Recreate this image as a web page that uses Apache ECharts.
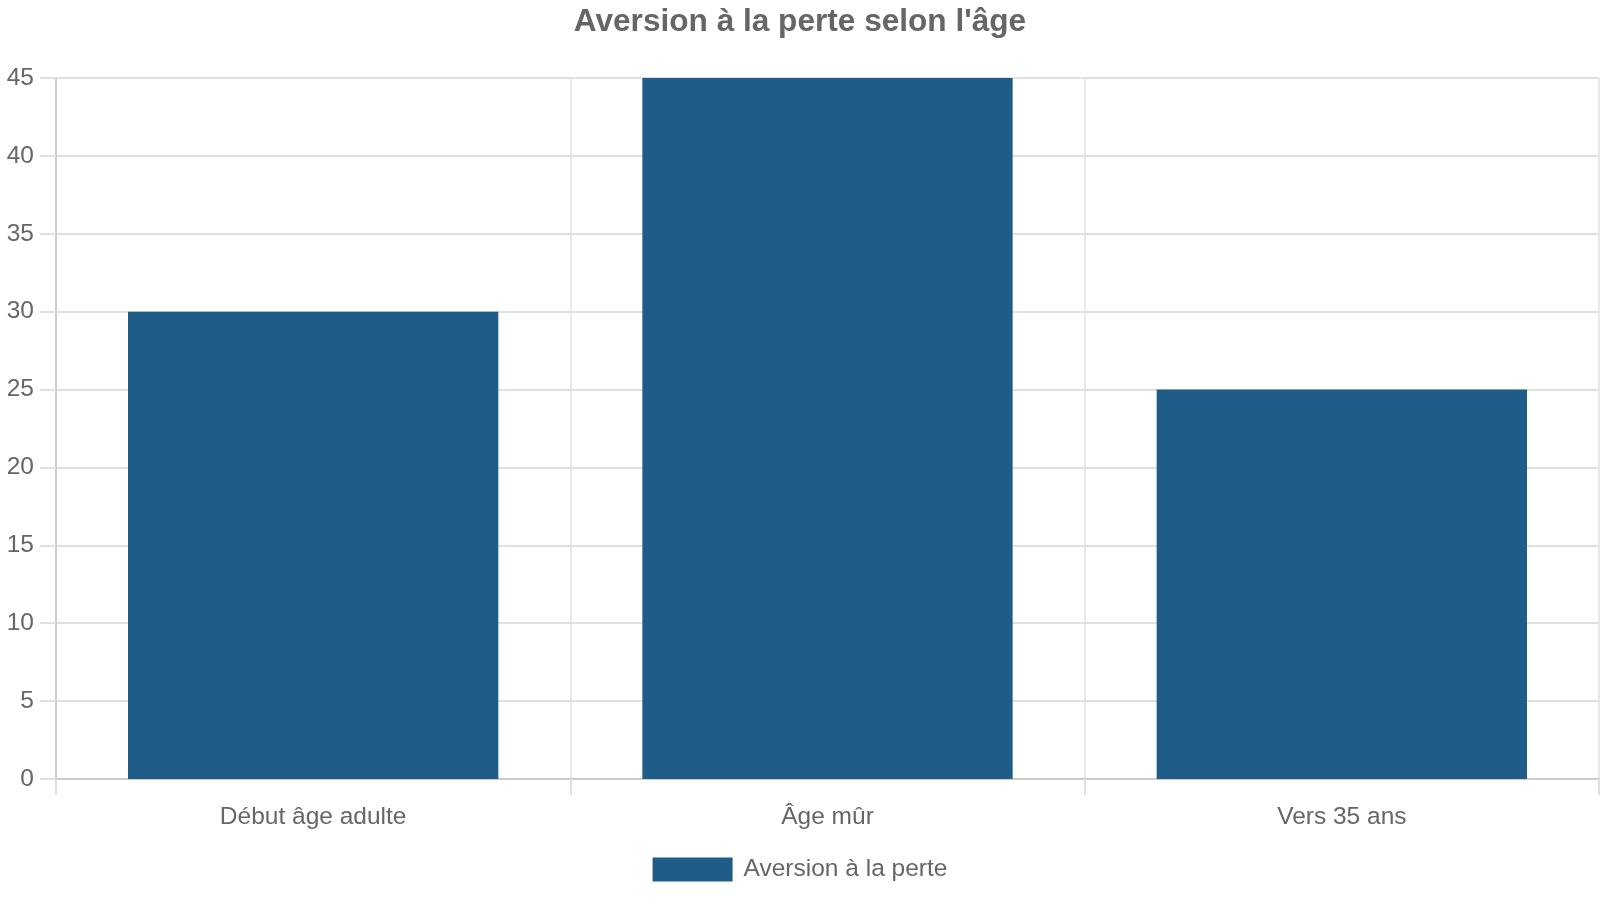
<!DOCTYPE html>
<html>
<head>
<meta charset="utf-8">
<title>Aversion à la perte selon l'âge</title>
<script src="https://cdn.jsdelivr.net/npm/echarts@6/dist/echarts.min.js"></script>
<style>
    html, body { margin: 0; padding: 0; background: #fff; }
    #chart { width: 1600px; height: 900px; }
</style>
</head>
<body>
<div id="chart"></div>
<script>
// categories and values
var categories = ['Début âge adulte', 'Âge mûr', 'Vers 35 ans'];
var aversionValues = [30, 45, 25];
var seriesName = 'Aversion à la perte';

var chart = echarts.init(document.getElementById('chart'));

var option = {
    backgroundColor: '#fff',
    textStyle: {
        fontFamily: 'Liberation Sans, Arial, sans-serif',
        color: '#666'
    },
    title: {
        text: "Aversion à la perte selon l'âge",
        left: 'center',
        top: 1,
        textStyle: {
            fontSize: 31.6,
            fontWeight: 'bold',
            color: '#666'
        }
    },
    legend: {
        bottom: 13,
        left: 'center',
        itemWidth: 80,
        itemHeight: 24,
        itemGap: 20,
        icon: 'rect',
        textStyle: {
            fontSize: 24.5,
            color: '#666',
            padding: [0, 0, 0, 6]
        },
        data: [seriesName]
    },
    grid: {
        left: 56,
        right: 1,
        top: 78,
        bottom: 121,
        containLabel: false
    },
    xAxis: {
        type: 'category',
        data: categories,
        axisLine: { lineStyle: { color: '#ccc', width: 2 } },
        axisTick: {
            show: true,
            alignWithLabel: false,
            length: 16,
            lineStyle: { color: '#e0e0e0', width: 2 }
        },
        splitLine: {
            show: true,
            lineStyle: { color: '#e0e0e0', width: 1.5 }
        },
        axisLabel: {
            fontSize: 24.5,
            color: '#666',
            margin: 26
        }
    },
    yAxis: {
        type: 'value',
        min: 0,
        max: 45,
        interval: 5,
        axisLine: { show: true, lineStyle: { color: '#ccc', width: 2 } },
        axisTick: {
            show: true,
            length: 16,
            lineStyle: { color: '#e0e0e0', width: 2 }
        },
        splitLine: {
            lineStyle: { color: '#e0e0e0', width: 2 }
        },
        axisLabel: {
            fontSize: 24.5,
            color: '#666',
            margin: 22
        }
    },
    series: [
        {
            name: seriesName,
            type: 'bar',
            data: aversionValues,
            barCategoryGap: '28%',
            itemStyle: { color: '#1f5c87' },
            animation: false
        }
    ]
};

chart.setOption(option);
</script>
</body>
</html>
